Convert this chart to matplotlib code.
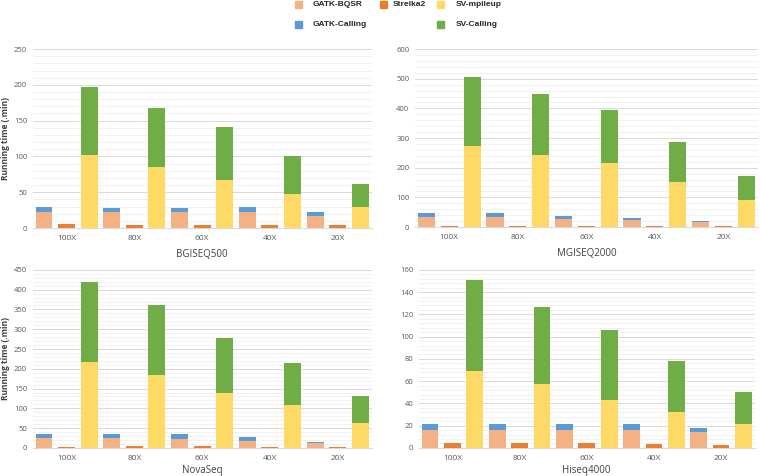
import numpy as np
import matplotlib.pyplot as plt
from matplotlib.patches import Rectangle
from matplotlib.ticker import MultipleLocator, AutoMinorLocator

plt.rcParams["font.family"] = ["Open Sans", "DejaVu Sans"]

depths = ["100X", "80X", "60X", "40X", "20X"]

# BGISEQ500
bgi_bqsr = [22, 22, 22, 22, 17]
bgi_call = [7, 6, 6, 7, 5]
bgi_strelka = [5, 4, 4, 4, 4]
bgi_mpileup = [102, 85, 67, 48, 29]
bgi_sv = [95, 83, 74, 52, 32]

# MGISEQ2000
mgi_bqsr = [33, 33, 28, 23, 16]
mgi_call = [14, 14, 10, 8, 5]
mgi_strelka = [4, 4, 4, 4, 4]
mgi_mpileup = [273, 244, 217, 152, 91]
mgi_sv = [234, 204, 179, 135, 82]

# NovaSeq
nova_bqsr = [25, 24, 22, 18, 12]
nova_call = [11, 12, 12, 9, 3]
nova_strelka = [3.5, 4, 6, 3, 3]
nova_mpileup = [218, 184, 139, 108, 62]
nova_sv = [202, 176, 139, 106, 70]

# Hiseq4000
hi_bqsr = [16, 16, 16, 16, 14]
hi_call = [5.5, 5.5, 5.5, 5.5, 4]
hi_strelka = [4, 4, 4, 3.3, 3]
hi_mpileup = [69, 57, 43, 32, 21.5]
hi_sv = [82, 70, 63, 46, 29]

panels = [
    ("BGISEQ500", bgi_bqsr, bgi_call, bgi_strelka, bgi_mpileup, bgi_sv, 250, 50),
    ("MGISEQ2000", mgi_bqsr, mgi_call, mgi_strelka, mgi_mpileup, mgi_sv, 600, 100),
    ("NovaSeq", nova_bqsr, nova_call, nova_strelka, nova_mpileup, nova_sv, 450, 50),
    ("Hiseq4000", hi_bqsr, hi_call, hi_strelka, hi_mpileup, hi_sv, 160, 20),
]

c_bqsr = "#F4B183"
c_call = "#5B9BD5"
c_strelka = "#ED7D31"
c_mpileup = "#FFD966"
c_sv = "#70AD47"

W, H = 760, 476

# axes boxes [left, bottom, width, height] in figure fractions
boxes = [
    [0.043, 0.521, 0.446, 0.376],
    [0.546, 0.523, 0.451, 0.374],
    [0.043, 0.059, 0.446, 0.374],
    [0.551, 0.059, 0.442, 0.374],
]

fig = plt.figure(figsize=(7.6, 4.76), dpi=100)

x = np.arange(len(depths))
w = 0.25
off = 1 / 3

for k, (name, bqsr, call, strelka, mpileup, sv, ymax, step) in enumerate(panels):
    ax = fig.add_axes(boxes[k])
    ax.bar(x - off, bqsr, w, color=c_bqsr, zorder=3)
    ax.bar(x - off, call, w, bottom=bqsr, color=c_call, zorder=3)
    ax.bar(x, strelka, w, color=c_strelka, zorder=3)
    ax.bar(x + off, mpileup, w, color=c_mpileup, zorder=3)
    ax.bar(x + off, sv, w, bottom=mpileup, color=c_sv, zorder=3)

    ax.set_xlim(-0.5, len(depths) - 0.5)
    ax.set_ylim(0, ymax)
    ax.yaxis.set_major_locator(MultipleLocator(step))
    ax.yaxis.set_minor_locator(AutoMinorLocator(5))
    ax.grid(axis="y", which="major", color="#D9D9D9", lw=0.7, zorder=0)
    ax.grid(axis="y", which="minor", color="#EFEFEF", lw=0.6, zorder=0)
    ax.set_axisbelow(True)
    for s in ["top", "right", "left"]:
        ax.spines[s].set_visible(False)
    ax.spines["bottom"].set_color("#D9D9D9")
    ax.set_xticks(x)
    ax.set_xticklabels(depths)
    ax.tick_params(axis="x", which="both", length=0, labelsize=6, colors="#595959", pad=5)
    ax.tick_params(axis="y", which="both", length=0, labelsize=5.5, colors="#595959", pad=4)
    ax.set_xlabel(name, fontsize=7, color="#404040", labelpad=5 if k < 2 else 2)

# y labels for the left column
for k in (0, 2):
    b = boxes[k]
    fig.text(6 / W, b[1] + b[3] / 2, "Running time (.min)", rotation=90, ha="center", va="center",
             fontsize=6, color="#404040", fontweight="bold")

# legend drawn by hand (two rows, three columns, one empty slot)
leg_items = [
    ("GATK-BQSR", c_bqsr, 298, 313, 4.5),
    ("Strelka2", c_strelka, 383, 393, 4.5),
    ("SV-mpileup", c_mpileup, 440, 456, 4.5),
    ("GATK-Calling", c_call, 298, 313, 24.5),
    ("SV-Calling", c_sv, 440, 456, 24.5),
]
sq = 7
for label, col, mx, tx, yc in leg_items:
    fig.patches.append(Rectangle(((mx - sq / 2) / W, 1 - (yc + sq / 2) / H), sq / W, sq / H,
                                 transform=fig.transFigure, color=col, figure=fig))
    fig.text(tx / W, 1 - yc / H, label, ha="left", va="center", fontsize=6,
             fontweight="bold", color="#262626", family=["Liberation Sans", "DejaVu Sans"])

fig.savefig("out.png", dpi=100)
